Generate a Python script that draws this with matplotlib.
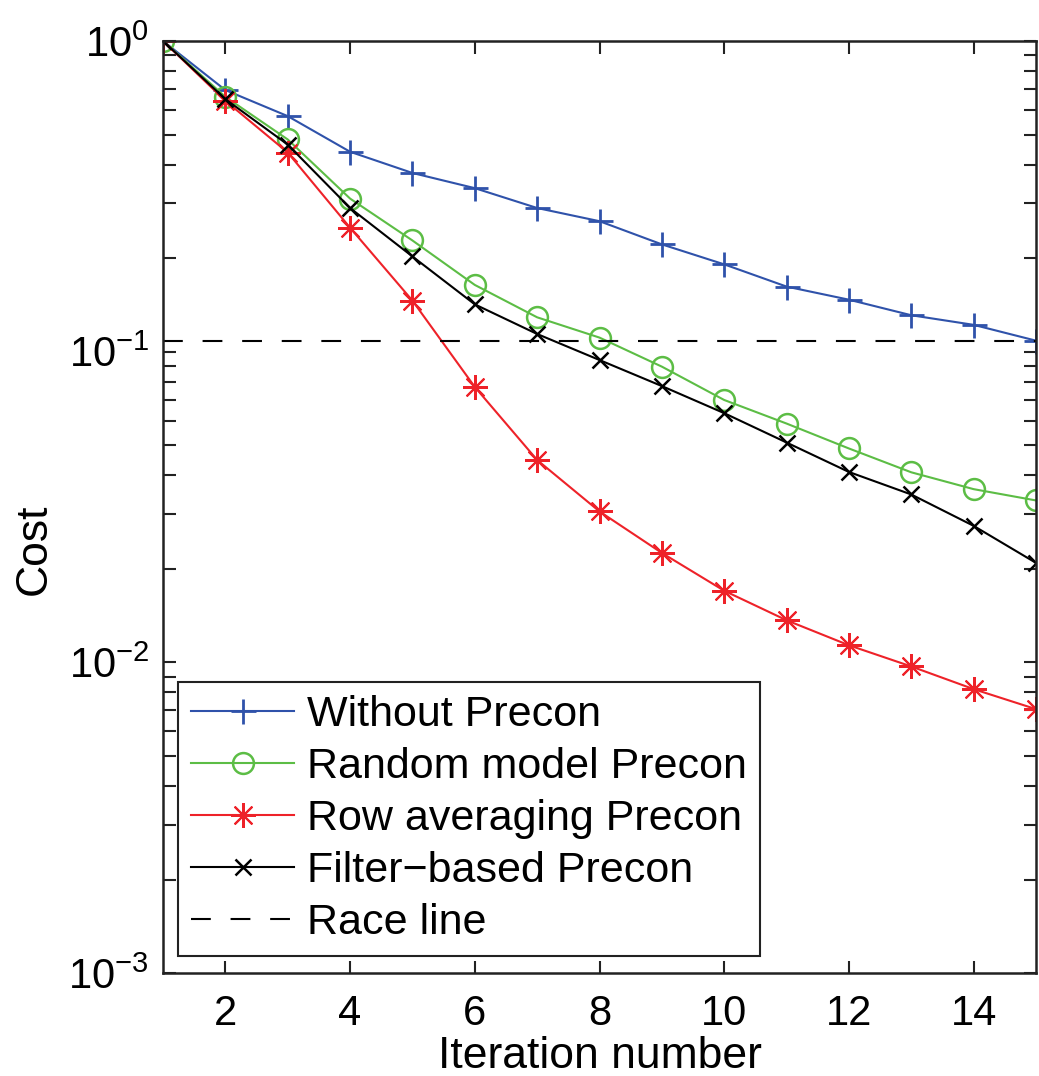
import matplotlib
matplotlib.use("Agg")
import matplotlib.pyplot as plt
from matplotlib.ticker import LogLocator, FixedLocator

plt.rcParams['font.family'] = ['Liberation Sans', 'DejaVu Sans']
plt.rcParams['mathtext.fontset'] = 'custom'
plt.rcParams['mathtext.rm'] = 'Liberation Sans'
plt.rcParams['mathtext.it'] = 'Liberation Sans:italic'
plt.rcParams['mathtext.default'] = 'regular'

# data
iterations = list(range(1, 16))
without_precon = [1.0, 0.695, 0.573, 0.44, 0.376, 0.336, 0.29, 0.263, 0.2215,
                  0.191, 0.162, 0.147, 0.131, 0.122, 0.1085]
random_model = [1.0, 0.661, 0.482, 0.311, 0.228, 0.164, 0.129, 0.111, 0.0895,
                0.0699, 0.0587, 0.0488, 0.0409, 0.0361, 0.0332]
row_averaging = [1.0, 0.642, 0.4375, 0.2506, 0.146, 0.077, 0.0448, 0.0306,
                 0.0225, 0.0170, 0.01366, 0.01135, 0.0097, 0.0082, 0.00707]
filter_based = [1.0, 0.65, 0.464, 0.29, 0.2025, 0.142, 0.114, 0.094, 0.0775,
                0.0634, 0.051, 0.041, 0.0347, 0.0275, 0.0209]
race_line = 0.1085

labels = ['Without Precon', 'Random model Precon', 'Row averaging Precon',
          'Filter\u2212based Precon', 'Race line']

BLUE = '#2f52aa'
GREEN = '#5cbd45'
RED = '#ee2229'

fig = plt.figure(figsize=(10.39, 10.76), dpi=100)
ax = fig.add_axes([0.1569, 0.0957, 0.8402, 0.8662])

lw = 1.5
ax.plot(iterations, without_precon, color=BLUE, lw=lw, marker='+', ms=18, mew=2.0,
        label=labels[0])
ax.plot(iterations, random_model, color=GREEN, lw=lw, marker='o', ms=15, mew=1.8,
        mfc='none', label=labels[1])
# matlab-style '*' : plus and cross combined
ax.plot(iterations, row_averaging, color=RED, lw=lw, marker=(8, 2, 0), ms=18, mew=1.5,
        label=labels[2])
ax.plot(iterations, filter_based, color='black', lw=lw, marker='x', ms=12, mew=1.8,
        label=labels[3])
ax.plot([iterations[0], iterations[-1]], [race_line, race_line], color='black',
        lw=1.5, dashes=(9.5, 9.5), label=labels[4])

ax.set_yscale('log')
ax.set_xlim(1, 15)
ax.set_ylim(1e-3, 1e0)
ax.xaxis.set_major_locator(FixedLocator([2, 4, 6, 8, 10, 12, 14]))
ax.yaxis.set_major_locator(LogLocator(base=10, numticks=10))
ax.yaxis.set_minor_locator(LogLocator(base=10, subs=range(2, 10), numticks=20))

ax.tick_params(which='both', direction='in', top=True, right=True,
               labelsize=30, width=1.5, color='#222222')
ax.tick_params(which='major', length=9)
ax.tick_params(which='minor', length=9)
ax.tick_params(axis='x', pad=15)
ax.tick_params(axis='y', pad=10)
for s in ax.spines.values():
    s.set_linewidth(1.8)
    s.set_color('#222222')

ax.set_xlabel('Iteration number', fontsize=32)
ax.set_ylabel('Cost', fontsize=32)
ax.xaxis.set_label_coords(0.5, -0.09)
ax.yaxis.set_label_coords(-0.147, 0.455)
ax.xaxis.label.set_va('center')
ax.yaxis.label.set_va('center')

leg = ax.legend(loc='lower left', bbox_to_anchor=(0.0172, 0.0182), borderaxespad=0,
                fontsize=31, numpoints=1, handlelength=2.4, handletextpad=0.3,
                labelspacing=0.28, borderpad=0.3, fancybox=False, framealpha=1,
                edgecolor='#222222')
leg.get_frame().set_linewidth(1.5)

fig.savefig('out.png', dpi=100)
